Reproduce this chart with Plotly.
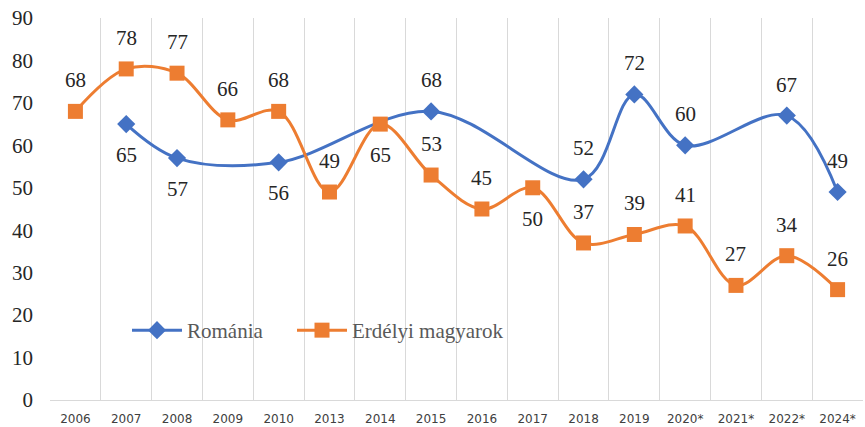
import plotly.graph_objects as go

categories = ["2006", "2007", "2008", "2009", "2010", "2013", "2014", "2015",
              "2016", "2017", "2018", "2019", "2020*", "2021*", "2022*", "2024*"]
romania = [None, 65, 57, None, 56, None, None, 68, None, None, 52, 72, 60, None, 67, 49]
erdely = [68, 78, 77, 66, 68, 49, 65, 53, 45, 50, 37, 39, 41, 27, 34, 26]
# label placement: +1 above, -1 below
romania_pos = [0, -1, -1, 0, -1, 0, 0, 1, 0, 0, 1, 1, 1, 0, 1, 1]
erdely_pos = [1, 1, 1, 1, 1, 1, -1, 1, 1, -1, 1, 1, 1, 1, 1, 1]

BLUE = "#4472C4"
ORANGE = "#ED7D31"
SERIF = "Liberation Serif"

W, H = 865, 427
PL, PT, PR, PB = 50, 18, 863, 400  # plot area in window pixels
PW, PH = PR - PL, PB - PT

def px_x(x):
    return (x - PL) / PW

def px_y(y):
    return (PB - y) / PH

fig = go.Figure()
fig.add_trace(go.Scatter(
    x=categories, y=romania, name="Románia", mode="lines+markers",
    connectgaps=True, legend="legend",
    line=dict(color=BLUE, width=3, shape="spline", smoothing=1),
    marker=dict(symbol="diamond", size=14, color=BLUE),
))
fig.add_trace(go.Scatter(
    x=categories, y=erdely, name="Erdélyi magyarok", mode="lines+markers",
    legend="legend2",
    line=dict(color=ORANGE, width=3, shape="spline", smoothing=1),
    marker=dict(symbol="square", size=15, color=ORANGE),
))

annotations = []
for vals, pos in ((romania, romania_pos), (erdely, erdely_pos)):
    for i, (v, p) in enumerate(zip(vals, pos)):
        if v is None or p == 0:
            continue
        annotations.append(dict(
            x=i, y=v, xref="x", yref="y", text=str(v), showarrow=False,
            yshift=31 * p, font=dict(family=SERIF, size=21, color="#262626"),
        ))

# white backing box behind the legend (covers gridlines)
shapes = [dict(
    type="rect", xref="paper", yref="paper", layer="between",
    x0=px_x(100), x1=px_x(536), y0=px_y(352), y1=px_y(308),
    fillcolor="white", line=dict(width=0),
)]

legend_common = dict(
    orientation="h", xanchor="left", yanchor="top",
    bgcolor="rgba(0,0,0,0)", font=dict(family=SERIF, size=21, color="#595959"),
    itemwidth=50,
)

fig.update_layout(
    width=W, height=H,
    margin=dict(l=PL, r=W - PR, t=PT, b=H - PB, pad=0),
    paper_bgcolor="white", plot_bgcolor="white",
    annotations=annotations,
    shapes=shapes,
    showlegend=True,
    legend=dict(x=px_x(127), y=px_y(310), **legend_common),
    legend2=dict(x=px_x(292), y=px_y(310), **legend_common),
    xaxis=dict(
        type="category", tickson="boundaries", showgrid=True, gridcolor="#D9D9D9",
        gridwidth=1, showline=True, linecolor="#D9D9D9", linewidth=1,
        ticks="", tickfont=dict(family="DejaVu Sans", size=12, color="#404040"),
        range=[-0.5, 15.5], ticklabelstandoff=8, automargin=False,
    ),
    yaxis=dict(
        range=[0, 90], dtick=10, showgrid=False, zeroline=False, showline=False,
        tickfont=dict(family=SERIF, size=21, color="#262626"),
        ticks="", ticklabelstandoff=16, automargin=False, ticklabeloverflow="allow",
    ),
)

fig.write_html("out.html", config={"displayModeBar": False},
               post_script="document.body.style.margin='0';")
